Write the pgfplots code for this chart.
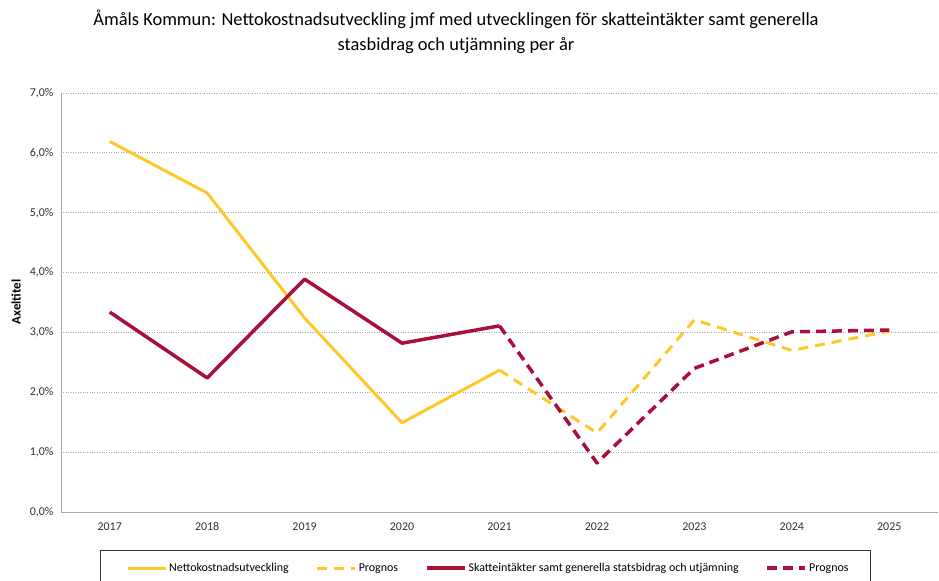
\documentclass[border=0pt]{standalone}
\usepackage{fontspec}
\setmainfont{Carlito}
\usepackage{pgfplots}
\pgfplotsset{compat=1.18}
\definecolor{ylw}{RGB}{255,200,40}
\definecolor{crim}{RGB}{168,16,58}
\definecolor{gridc}{RGB}{170,170,170}
\begin{document}
\begin{tikzpicture}
\useasboundingbox (-61bp,-69bp) rectangle (878bp,512bp);
\begin{axis}[
  at={(0bp,0bp)}, anchor=south west,
  scale only axis, width=877bp, height=419bp,
  xmin=-0.5, xmax=8.5, ymin=0, ymax=7,
  xtick={0,...,8}, xticklabels={2017,2018,2019,2020,2021,2022,2023,2024,2025},
  ytick={0,1,...,7},
  yticklabel={\pgfmathprintnumber[fixed,fixed zerofill,precision=1,use comma]{\tick}\%},
  /pgf/number format/assume math mode=true,
  axis x line*=bottom, axis y line*=left,
  axis line style={gridc, line width=0.8bp, -},
  major tick length=0,
  ymajorgrids, grid style={gridc, dotted, line width=0.8bp},
  tick label style={font=\fontsize{12}{14}\selectfont, color=black!80},
  xticklabel style={yshift=-7bp},
  yticklabel style={xshift=-4bp},
  ylabel={\textbf{Axeltitel}},
  every axis y label/.style={at={(axis description cs:-0.0513,0.501)}, rotate=90, anchor=center, font=\fontsize{13}{15}\selectfont},
  legend style={draw=none, fill=none, at={(axis description cs:0.0707,-0.1337)}, anchor=west,
    legend columns=4, font=\fontsize{12}{14}\selectfont,
    /tikz/every even column/.append style={column sep=25bp}},
  legend cell align=left,
  legend image code/.code={\draw[#1] (0bp,0bp) -- (38bp,0bp);},
  line join=round,
]
\addplot[ylw, line width=3bp] coordinates {(0,6.19)(1,5.33)(2,3.24)(3,1.49)(4,2.37)};
\addlegendentry{Nettokostnadsutveckling}
\addplot[ylw, line width=3bp, dash pattern=on 10bp off 7bp] coordinates {(4,2.37)(5,1.32)(6,3.21)(7,2.70)(8,3.02)};
\addlegendentry{Prognos}
\addplot[crim, line width=3.5bp] coordinates {(0,3.34)(1,2.24)(2,3.89)(3,2.82)(4,3.11)};
\addlegendentry{Skatteintäkter samt generella statsbidrag och utjämning}
\addplot[crim, line width=3.5bp, dash pattern=on 10bp off 6bp] coordinates {(4,3.11)(5,0.82)(6,2.40)(7,3.01)(8,3.04)};
\addlegendentry{Prognos}
\end{axis}
\draw[black!80, line width=0.8bp] (39bp,-38bp) rectangle (809bp,-90bp);
\node[align=center, font=\fontsize{18.5}{25}\selectfont] at (395bp,480bp)
  {Åmåls Kommun: Nettokostnadsutveckling jmf med utvecklingen för skatteintäkter samt generella\\ stasbidrag och utjämning per år};
\end{tikzpicture}
\end{document}
